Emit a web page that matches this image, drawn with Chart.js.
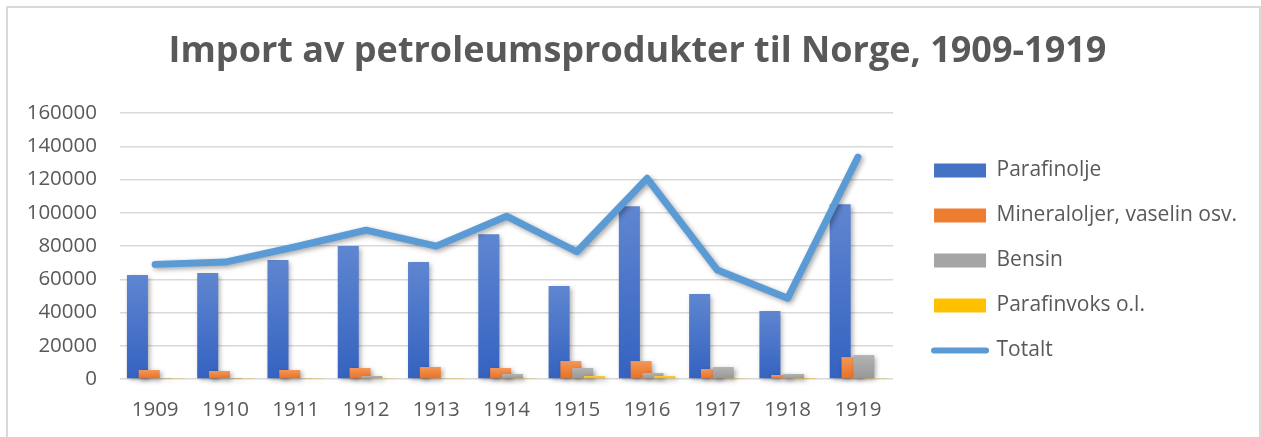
<!DOCTYPE html>
<html>
<head>
<meta charset="utf-8">
<script src="https://cdn.jsdelivr.net/npm/chart.js@4/dist/chart.umd.min.js"></script>
<style>
  html, body { margin: 0; padding: 0; background: #fff; overflow: hidden; }
  #frame { position: absolute; left: 6px; top: 6px; width: 1255px; height: 460px;
           border: 2px solid #d9d9d9; box-sizing: border-box; }
  #wrap { position: absolute; left: 0; top: 0; width: 1261px; height: 437px; }
</style>
</head>
<body>
<div id="frame"></div>
<div id="wrap"><canvas id="chart"></canvas></div>
<script>
// years on the x axis
const years = ['1909', '1910', '1911', '1912', '1913', '1914', '1915', '1916', '1917', '1918', '1919'];

// imports per product
const parafinolje = [62600, 63800, 71600, 80000, 70400, 87200, 56000, 104000, 51200, 40900, 105200];
const mineraloljer = [5400, 4800, 5400, 6600, 7200, 6600, 10800, 10800, 6000, 2400, 13200];
const bensin = [200, 100, 300, 1800, 400, 3000, 6600, 3600, 7200, 3000, 14400];
const parafinvoks = [600, 600, 600, 600, 600, 600, 1800, 1800, 600, 200, 600];
const totalt = [69000, 70400, 79600, 89600, 80000, 98000, 76600, 120800, 65600, 48600, 133600];

const yTicks = [0, 20000, 40000, 60000, 80000, 100000, 120000, 140000, 160000];

const textColor = '#595959';
const font = "'Open Sans', sans-serif";

// vertical gradient on each bar, lighter at top like the office look
function barFill(top, bottom) {
  return (c) => {
    const chart = c.chart;
    if (!chart.chartArea || c.type !== 'data') return bottom;
    const y = chart.scales.y;
    const y0 = y.getPixelForValue(c.raw);
    const y1 = y.getPixelForValue(0);
    if (!isFinite(y0) || y1 - y0 < 1) return bottom;
    const g = chart.ctx.createLinearGradient(0, y0, 0, y1);
    g.addColorStop(0, top);
    g.addColorStop(1, bottom);
    return g;
  };
}

const legendColors = ['#4472C4', '#ED7D31', '#A5A5A5', '#FFC000', '#5B9BD5'];

// draw datasets in index order (later ones on top) with a soft shadow
const shadowOrder = {
  id: 'shadowOrder',
  beforeDatasetsDraw(chart) {
    const ctx = chart.ctx;
    chart.getSortedVisibleDatasetMetas()
      .slice().sort((a, b) => a.index - b.index)
      .forEach(meta => {
        ctx.save();
        ctx.shadowColor = 'rgba(0,0,0,0.35)';
        ctx.shadowBlur = 5;
        ctx.shadowOffsetX = 2;
        ctx.shadowOffsetY = 2;
        meta.controller.draw();
        ctx.restore();
      });
    return false;
  }
};

let ctx = document.querySelector('#chart');
let graph = new Chart(ctx, {
  data: {
    labels: years,
    datasets: [
      { type: 'bar', label: 'Parafinolje', data: parafinolje,
        backgroundColor: barFill('#5F86D0', '#3462C0') },
      { type: 'bar', label: 'Mineraloljer, vaselin osv.', data: mineraloljer,
        backgroundColor: barFill('#F4965A', '#E8701E') },
      { type: 'bar', label: 'Bensin', data: bensin,
        backgroundColor: barFill('#B3B3B3', '#979797') },
      { type: 'bar', label: 'Parafinvoks o.l.', data: parafinvoks,
        backgroundColor: barFill('#FFCB3A', '#F0B400') },
      { type: 'line', label: 'Totalt', data: totalt,
        borderColor: '#5B9BD5', backgroundColor: '#5B9BD5',
        borderWidth: 7, pointRadius: 0, tension: 0,
        borderJoinStyle: 'round', borderCapStyle: 'round' }
    ]
  },
  options: {
    responsive: true,
    maintainAspectRatio: false,
    animation: false,
    categoryPercentage: 0.672,
    barPercentage: 1.78,
    layout: { padding: { left: 28, right: 14, top: 10, bottom: 12 } },
    scales: {
      x: {
        grid: { display: false, drawTicks: false },
        border: { display: false },
        ticks: { color: textColor, font: { family: font, size: 20.5 }, padding: 19, maxRotation: 0 },
        afterFit: (axis) => { axis.height = 46; }
      },
      y: {
        min: 0, max: 160000,
        afterBuildTicks: (axis) => { axis.ticks = yTicks.map(v => ({ value: v })); },
        grid: { color: '#d9d9d9', lineWidth: 1.5, drawTicks: false },
        border: { display: false },
        ticks: { color: textColor, font: { family: font, size: 20.5 }, padding: 23,
                 callback: (v) => String(v) },
        afterFit: (axis) => { axis.width = 92; }
      },
      // empty axis, only keeps a gap between plot and legend
      spacer: {
        type: 'linear', position: 'right', display: true,
        grid: { display: false, drawTicks: false }, border: { display: false },
        ticks: { display: false },
        afterFit: (axis) => { axis.width = 17; }
      }
    },
    plugins: {
      title: {
        display: true,
        text: 'Import av petroleumsprodukter til Norge, 1909-1919',
        color: textColor,
        font: { family: font, size: 36, weight: 'bold' },
        padding: { top: 20, bottom: 40 }
      },
      legend: {
        display: true,
        position: 'right',
        align: 'start',
        maxWidth: 420,
        title: { display: true, text: ' ', font: { size: 10 }, padding: { top: 0, bottom: 114 } },
        labels: {
          usePointStyle: true,
          pointStyleWidth: 52,
          boxHeight: 14,
          padding: 24,
          color: textColor,
          font: { family: font, size: 21 },
          generateLabels: (chart) => chart.data.datasets.map((ds, i) => ({
            text: ds.label,
            fillStyle: legendColors[i],
            strokeStyle: legendColors[i],
            lineWidth: ds.type === 'line' ? 6 : 0,
            lineCap: 'round',
            pointStyle: ds.type === 'line' ? 'line' : 'rect',
            fontColor: textColor,
            hidden: false,
            datasetIndex: i
          }))
        }
      },
      tooltip: { enabled: false }
    }
  },
  plugins: [shadowOrder]
});
</script>
</body>
</html>
